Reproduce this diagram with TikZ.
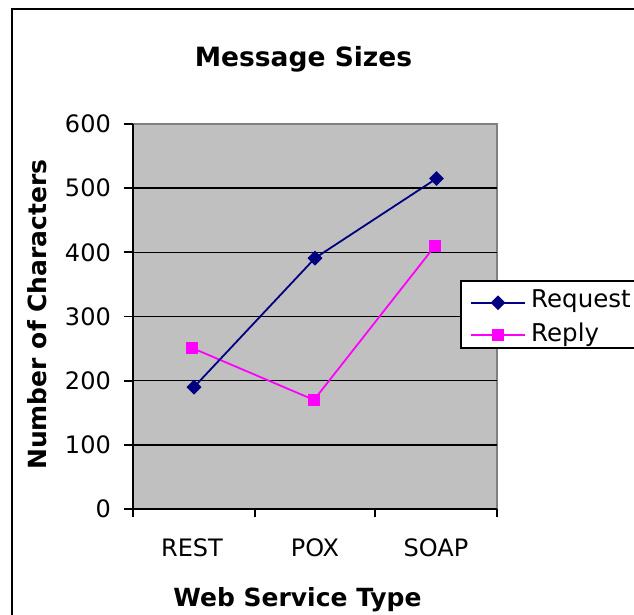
\documentclass[tikz,border=0pt]{standalone}
\usepackage{fontspec}
\setmainfont{DejaVu Sans}
\usepackage{tikz}
\usetikzlibrary{shapes.geometric}
\definecolor{plotgray}{HTML}{C0C0C0}
\definecolor{reqblue}{HTML}{000080}
\definecolor{repmag}{HTML}{FF00FF}

\begin{document}
\begin{tikzpicture}[x=1pt,y=-1pt,
  axisline/.style={black,line width=1.7pt},
  gridline/.style={black,line width=1.6pt},
  reqline/.style={reqblue,line width=1.8pt},
  repline/.style={repmag,line width=1.8pt},
  reqmark/.style={diamond,fill=reqblue,minimum size=15pt},
  repmark/.style={rectangle,fill=repmag,minimum size=12pt},
  ticktext/.style={font=\fontsize{24}{24}\selectfont},
  legendtext/.style={font=\fontsize{24.5}{24.5}\selectfont},
  axistitle/.style={font=\bfseries\fontsize{25}{25}\selectfont},
  charttitle/.style={font=\bfseries\fontsize{26.5}{26.5}\selectfont}]
\tikzstyle{every node}+=[inner sep=0pt]
\useasboundingbox (0,0) rectangle (634,615);
\fill [white] (0,0) rectangle (634,615);
\draw [line width=2.2pt] (12,640) -- (12,9) -- (660,9);
\node [charttitle,anchor=base] (title) at (303.5,66.7) {Message Sizes};
\fill [plotgray] (133,124) rectangle (497,509);
\draw [gray,line width=1.5pt] (133,124) -- (497,124) -- (497,509);
\foreach \v in {100,200,...,500}
  \draw [gridline] (133,{509-0.64167*\v}) -- (497,{509-0.64167*\v});
\foreach \v in {0,100,...,600} {
  \draw [axisline] (124,{509-0.64167*\v}) -- (133,{509-0.64167*\v});
  \node [ticktext,anchor=east] (y\v) at (111,{509-0.64167*\v}) {\v};
}
\foreach \x in {133,255,375,497}
  \draw [axisline] (\x,509) -- (\x,517);
\draw [axisline] (133,124) -- (133,509) -- (497,509);
\node [ticktext,anchor=base] (rest) at (192,556) {REST};
\node [ticktext,anchor=base] (pox) at (315,556) {POX};
\node [ticktext,anchor=base] (soap) at (436,556) {SOAP};
\node [axistitle,anchor=base] (xtitle) at (297.5,606.7) {Web Service Type};
\node [axistitle,anchor=base,rotate=90] (ytitle) at (46.5,314.5) {Number of Characters};
\coordinate (req1) at (194,{509-0.64167*190});
\coordinate (req2) at (315,{509-0.64167*391});
\coordinate (req3) at (436.5,{509-0.64167*515});
\coordinate (rep1) at (192,{509-0.64167*251});
\coordinate (rep2) at (314,{509-0.64167*170});
\coordinate (rep3) at (435,{509-0.64167*410});
\draw [repline] (rep1) -- (rep2) -- (rep3);
\draw [reqline] (req1) -- (req2) -- (req3);
\node [reqmark] (mreq1) at (req1) {};
\node [reqmark] (mreq2) at (req2) {};
\node [reqmark] (mreq3) at (req3) {};
\node [repmark] (mrep1) at (rep1) {};
\node [repmark] (mrep2) at (rep2) {};
\node [repmark] (mrep3) at (rep3) {};
\draw [fill=white,line width=1.7pt] (461,281) rectangle (650,348);
\coordinate (lreqa) at (471,302.7);
\coordinate (lreqb) at (525,302.7);
\coordinate (lrepa) at (471,335);
\coordinate (lrepb) at (525,335);
\draw [reqline] (lreqa) -- (lreqb);
\draw [repline] (lrepa) -- (lrepb);
\node [reqmark] (lmreq) at (498,302.7) {};
\node [repmark] (lmrep) at (498,335) {};
\node [legendtext,anchor=base west] (lreq) at (531,307.3) {Request};
\node [legendtext,anchor=base west] (lrep) at (531,341.7) {Reply};
\end{tikzpicture}
\end{document}
